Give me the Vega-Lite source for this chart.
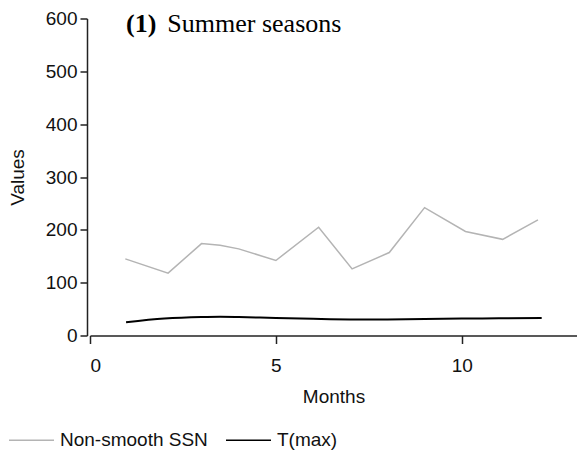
{
  "$schema": "https://vega.github.io/schema/vega-lite/v6.json",
  "width": 487,
  "height": 317,
  "autosize": {"type": "none"},
  "padding": {"left": 90, "top": 18.5, "right": 0, "bottom": 121.5},
  "config": {
    "view": {"stroke": null},
    "font": "Liberation Sans",
    "axis": {
      "grid": false,
      "domainColor": "#222222",
      "tickColor": "#222222",
      "labelColor": "#111111",
      "titleColor": "#111111",
      "labelFont": "Liberation Sans",
      "titleFont": "Liberation Sans",
      "labelFontSize": 19,
      "titleFontSize": 19,
      "titleFontWeight": "normal",
      "domainWidth": 1.5,
      "tickWidth": 1.5
    }
  },
  "datasets": {
    "series": [
      {"month": 0.95, "value": 145, "series": "Non-smooth SSN"},
      {"month": 2.1, "value": 118, "series": "Non-smooth SSN"},
      {"month": 3, "value": 174, "series": "Non-smooth SSN"},
      {"month": 3.5, "value": 171, "series": "Non-smooth SSN"},
      {"month": 4, "value": 164, "series": "Non-smooth SSN"},
      {"month": 5, "value": 142, "series": "Non-smooth SSN"},
      {"month": 6.15, "value": 205, "series": "Non-smooth SSN"},
      {"month": 7.05, "value": 126, "series": "Non-smooth SSN"},
      {"month": 8.05, "value": 157, "series": "Non-smooth SSN"},
      {"month": 9, "value": 242, "series": "Non-smooth SSN"},
      {"month": 10.1, "value": 197, "series": "Non-smooth SSN"},
      {"month": 11.1, "value": 182, "series": "Non-smooth SSN"},
      {"month": 12.05, "value": 219, "series": "Non-smooth SSN"},
      {"month": 0.97, "value": 25, "series": "T(max)"},
      {"month": 2, "value": 32, "series": "T(max)"},
      {"month": 3, "value": 35, "series": "T(max)"},
      {"month": 3.5, "value": 35.5, "series": "T(max)"},
      {"month": 4, "value": 35, "series": "T(max)"},
      {"month": 5, "value": 33, "series": "T(max)"},
      {"month": 6, "value": 31.5, "series": "T(max)"},
      {"month": 7, "value": 30.5, "series": "T(max)"},
      {"month": 8, "value": 30.5, "series": "T(max)"},
      {"month": 9, "value": 31, "series": "T(max)"},
      {"month": 10, "value": 32, "series": "T(max)"},
      {"month": 11, "value": 32.5, "series": "T(max)"},
      {"month": 12.15, "value": 33, "series": "T(max)"}
    ]
  },
  "layer": [
    {
      "data": {"name": "series"},
      "transform": [{"filter": "datum.series === 'Non-smooth SSN'"}],
      "mark": {"type": "line", "strokeWidth": 1.5},
      "encoding": {
        "x": {
          "field": "month", "type": "quantitative",
          "scale": {"domain": [0, 13.1], "nice": false, "zero": false},
          "axis": {"values": [0, 5, 10], "title": "Months", "tickSize": 8, "labelPadding": 13, "titlePadding": 12}
        },
        "y": {
          "field": "value", "type": "quantitative",
          "scale": {"domain": [0, 600], "nice": false},
          "axis": {"values": [0, 100, 200, 300, 400, 500, 600], "title": "Values", "offset": 3, "tickSize": 7, "labelPadding": 3, "titlePadding": 18}
        },
        "color": {
          "field": "series", "type": "nominal",
          "scale": {"domain": ["Non-smooth SSN", "T(max)"], "range": ["#b4b4b4", "#000000"]},
          "legend": {
            "orient": "none", "legendX": -82, "legendY": 398, "direction": "horizontal",
            "title": null, "symbolType": "stroke", "symbolSize": 2025, "symbolStrokeWidth": 1.5,
            "labelFontSize": 19, "labelFont": "Liberation Sans", "labelColor": "#111111",
            "labelOffset": 5, "columnPadding": 15
          }
        }
      }
    },
    {
      "data": {"name": "series"},
      "transform": [{"filter": "datum.series === 'T(max)'"}],
      "mark": {"type": "line", "strokeWidth": 2, "interpolate": "monotone"},
      "encoding": {
        "x": {"field": "month", "type": "quantitative"},
        "y": {"field": "value", "type": "quantitative"},
        "color": {"field": "series", "type": "nominal"}
      }
    },
    {
      "data": {"values": [{"t": "(1)"}]},
      "mark": {"type": "text", "font": "Liberation Serif", "fontSize": 26, "fontWeight": "bold", "align": "left", "baseline": "alphabetic", "color": "#000000"},
      "encoding": {
        "x": {"datum": 0.97, "type": "quantitative"},
        "y": {"datum": 575, "type": "quantitative"},
        "text": {"field": "t"}
      }
    },
    {
      "data": {"values": [{"t": "Summer seasons"}]},
      "mark": {"type": "text", "font": "Liberation Serif", "fontSize": 26, "align": "left", "baseline": "alphabetic", "color": "#000000"},
      "encoding": {
        "x": {"datum": 2.08, "type": "quantitative"},
        "y": {"datum": 575, "type": "quantitative"},
        "text": {"field": "t"}
      }
    }
  ]
}
